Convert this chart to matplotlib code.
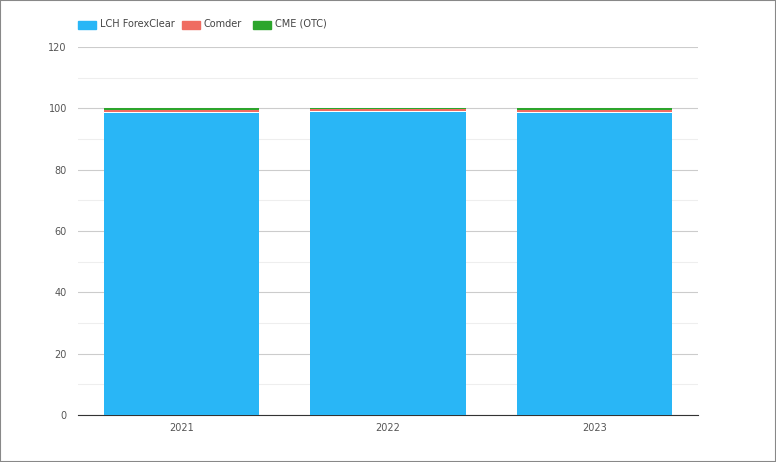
import matplotlib.pyplot as plt
import matplotlib.patches as patches
import numpy as np

years = ["2021", "2022", "2023"]
lch = [98.5, 98.9, 98.5]
comder = [1.1, 0.8, 1.1]
cme = [0.4, 0.3, 0.4]

colors = {"LCH ForexClear": "#29b6f6", "Comder": "#ef6c61", "CME (OTC)": "#2ca52c"}

fig = plt.figure(figsize=(7.76, 4.62), dpi=100)
ax = fig.add_axes([0.1005, 0.1017, 0.799, 0.7965])

x = np.arange(len(years))
bottom = np.zeros(len(years))
for name, vals in [("LCH ForexClear", lch), ("Comder", comder), ("CME (OTC)", cme)]:
    ax.bar(x, vals, 0.75, bottom=bottom, color=colors[name], linewidth=0, zorder=3)
    bottom += np.array(vals)

# thin white separator between blue and red segments
ax.bar(x, 0.25, 0.75, bottom=lch, color="white", linewidth=0, zorder=4)

ax.set_xlim(-0.5, 2.5)
ax.set_ylim(0, 120)
ax.set_yticks(range(0, 121, 20))
ax.set_yticks(range(10, 120, 20), minor=True)
ax.set_xticks(x)
ax.set_xticklabels(years)
ax.grid(axis="y", which="major", color="#cccccc", linewidth=0.8, zorder=0)
ax.grid(axis="y", which="minor", color="#eeeeee", linewidth=0.8, zorder=0)
for s in ["left", "right", "top"]:
    ax.spines[s].set_visible(False)
ax.spines["bottom"].set_color("#333333")
ax.tick_params(axis="both", which="both", length=0, labelsize=7, colors="#555555", pad=8)
ax.tick_params(axis="x", pad=6)

# legend at top-left
lx = 78
for name in colors:
    fig.patches.append(patches.Rectangle((lx / 776, 1 - 29 / 462), 18 / 776, 8 / 462,
                                         transform=fig.transFigure, color=colors[name]))
    fig.text((lx + 22) / 776, 1 - 24 / 462, name, fontsize=7, color="#444444", va="center")
    lx += {"LCH ForexClear": 104, "Comder": 71, "CME (OTC)": 0}[name]

fig.patches.append(patches.Rectangle((0, 0), 1, 1, transform=fig.transFigure, fill=False,
                                     edgecolor="#888888", linewidth=1.5))
fig.savefig("out.png", dpi=100)
